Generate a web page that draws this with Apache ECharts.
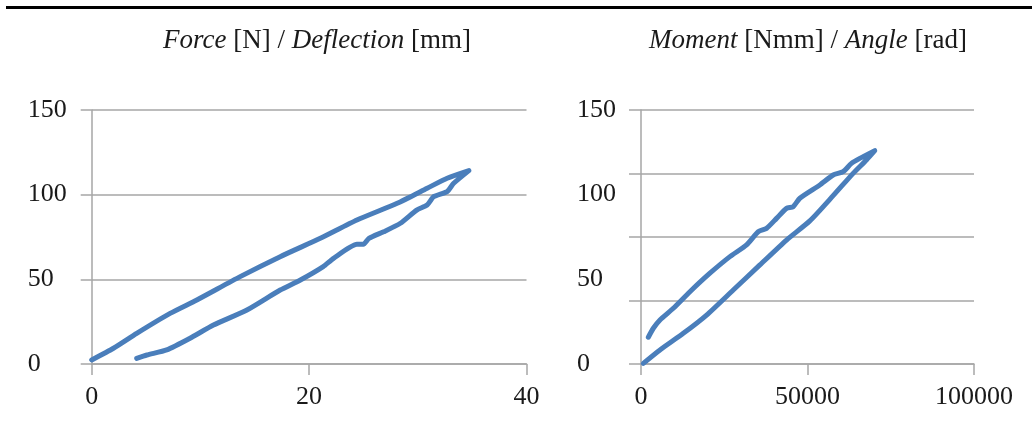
<!DOCTYPE html>
<html>
<head>
<meta charset="utf-8">
<script src="https://cdn.jsdelivr.net/npm/echarts@6/dist/echarts.min.js"></script>
<style>
html,body{margin:0;padding:0;background:#fff;}
#chart{width:1032px;height:427px;}
</style>
</head>
<body>
<div id="chart"></div>
<script>
// Left chart: Force [N] vs Deflection [mm]
const deflection = [0, 2.0, 4.14, 7.21, 9.67, 13.66, 17.34, 21.03, 24.4, 28.1, 30.86, 32.7, 34.7,
  33.3, 32.7, 31.46, 30.86, 29.9, 28.4, 26.86, 25.5, 25.0, 24.4, 22.25, 21.3, 19.2, 17.34, 14.28, 11.2, 9.05, 6.9, 5.07, 4.14];
const force = [2.4, 9.3, 18.1, 29.9, 37.8, 51.6, 63.4, 74.2, 85.0, 94.9, 103.8, 109.7, 114.2,
  106.7, 101.8, 98.8, 93.9, 90.9, 83.1, 78.1, 74.2, 70.7, 70.7, 62.4, 57.5, 49.6, 43.7, 31.9, 23.0, 15.2, 8.3, 5.3, 3.3];

// Right chart: Moment [Nmm] vs Angle
const moment = [2200, 3700, 5700, 9700, 14700, 20700, 26700, 31700, 35200, 37700, 40700, 43700, 45700, 47700, 53700, 57700, 60700, 63200, 65700, 70200,
  67700, 63700, 57700, 50700, 43700, 35700, 27700, 19700, 12700, 5700, 700];
const angle = [15.8, 21.1, 26.0, 32.9, 42.7, 53.6, 63.4, 70.3, 78.1, 80.1, 86.0, 91.9, 92.9, 97.9, 105.7, 111.6, 113.6, 118.5, 121.4, 126.0,
  120.5, 112.6, 99.4, 84.5, 73.2, 58.5, 43.7, 28.9, 18.1, 8.3, 0.4];

const leftXTicks = [0, 40, 20];      // min, max, interval
const rightXTicks = [0, 100000, 50000];
const yTicks = [0, 150, 50];

const FONT = '"Liberation Serif", "Times New Roman", serif';
const TXT = '#1a1a1a';
const GRAY = '#a6a6a6';
const BLUE = '#4a7ebb';
const FS = 26;
const TFS = 27;

function pairs(xs, ys) { return xs.map((x, i) => [x, ys[i]]); }

const chart = echarts.init(document.getElementById('chart'), null, {renderer: 'canvas'});

const axisLab = {color: TXT, fontFamily: FONT, fontSize: FS, formatter: v => String(v)};

chart.setOption({
  animation: false,
  graphic: [{
    type: 'rect', shape: {x: 6, y: 6, width: 1026, height: 3}, style: {fill: '#000'}
  }],
  title: [{
    text: '{i|Force} [N] / {i|Deflection} [mm]',
    left: 312, top: 22, textAlign: 'center',
    textStyle: {fontFamily: FONT, fontSize: TFS, color: TXT, fontWeight: 'normal',
      rich: {i: {fontFamily: FONT, fontSize: TFS, color: TXT, fontStyle: 'italic'}}}
  }, {
    text: '{i|Moment} [Nmm] / {i|Angle} [rad]',
    left: 803, top: 22, textAlign: 'center',
    textStyle: {fontFamily: FONT, fontSize: TFS, color: TXT, fontWeight: 'normal',
      rich: {i: {fontFamily: FONT, fontSize: TFS, color: TXT, fontStyle: 'italic'}}}
  }],
  grid: [
    {left: 91.7, right: 1032 - 526.5, top: 110, bottom: 427 - 364},
    {left: 641, right: 1032 - 974, top: 110, bottom: 427 - 364}
  ],
  xAxis: [{
    gridIndex: 0, type: 'value', min: leftXTicks[0], max: leftXTicks[1], interval: leftXTicks[2],
    axisLine: {lineStyle: {color: GRAY, width: 1.5}},
    axisTick: {show: true, length: 11, lineStyle: {color: GRAY, width: 1.5}},
    splitLine: {show: false},
    axisLabel: Object.assign({margin: 20}, axisLab)
  }, {
    gridIndex: 1, type: 'value', min: rightXTicks[0], max: rightXTicks[1], interval: rightXTicks[2],
    axisLine: {lineStyle: {color: GRAY, width: 1.5}},
    axisTick: {show: true, length: 11, lineStyle: {color: GRAY, width: 1.5}},
    splitLine: {show: false},
    axisLabel: Object.assign({margin: 20}, axisLab)
  }],
  yAxis: [{
    gridIndex: 0, type: 'value', min: yTicks[0], max: yTicks[1], interval: yTicks[2],
    axisLine: {show: true, lineStyle: {color: GRAY, width: 1.5}},
    axisTick: {show: true, length: 11, lineStyle: {color: GRAY, width: 1.5}},
    splitLine: {show: true, lineStyle: {color: GRAY, width: 1.5}},
    axisLabel: Object.assign({margin: 64, align: 'left'}, axisLab)
  }, {
    gridIndex: 1, type: 'value', min: yTicks[0], max: yTicks[1], interval: yTicks[2],
    axisLine: {show: true, lineStyle: {color: GRAY, width: 1.5}},
    axisTick: {show: false},
    splitLine: {show: false},
    axisLabel: Object.assign({margin: 64, align: 'left'}, axisLab)
  }, {
    gridIndex: 1, type: 'value', min: 0, max: 4, interval: 1,
    position: 'left',
    axisLine: {show: false},
    axisTick: {show: true, length: 12, lineStyle: {color: GRAY, width: 1.5}},
    splitLine: {show: true, lineStyle: {color: GRAY, width: 1.5}},
    axisLabel: {show: false}
  }],
  series: [{
    type: 'line', xAxisIndex: 0, yAxisIndex: 0,
    data: pairs(deflection, force), showSymbol: false, smooth: 0.2,
    lineStyle: {color: BLUE, width: 5, cap: 'round', join: 'round'}
  }, {
    type: 'line', xAxisIndex: 1, yAxisIndex: 1,
    data: pairs(moment, angle), showSymbol: false, smooth: 0.2,
    lineStyle: {color: BLUE, width: 5, cap: 'round', join: 'round'}
  }]
});
</script>
</body>
</html>
